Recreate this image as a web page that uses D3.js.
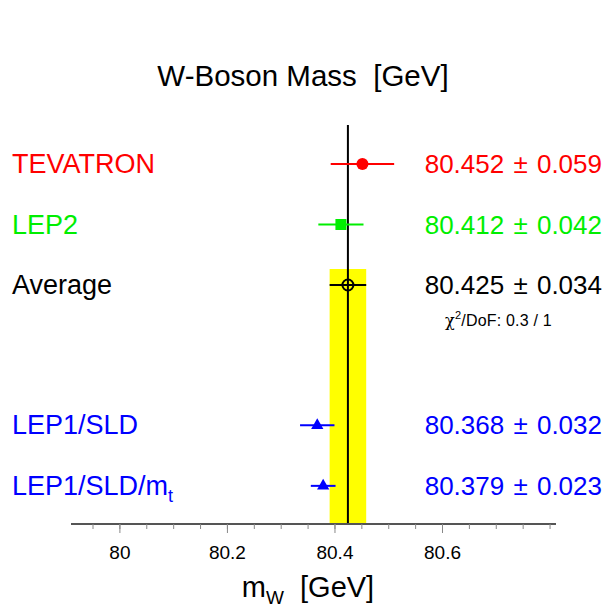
<!DOCTYPE html>
<html>
<head>
<meta charset="utf-8">
<script src="https://cdn.jsdelivr.net/npm/d3@7"></script>
<style>
  body { margin: 0; background: #fff; }
  text { font-family: "Liberation Sans", Arial, sans-serif; white-space: pre; }
</style>
</head>
<body>
<div id="chart"></div>
<script>
// measurements, top to bottom
const names = ["TEVATRON", "LEP2", "Average", "LEP1/SLD", "LEP1/SLD/m"];
const values = [80.452, 80.412, 80.425, 80.368, 80.379];
const errors = [0.059, 0.042, 0.034, 0.032, 0.023];
const colors = ["#ff0000", "#00ee00", "#000000", "#0000ff", "#0000ff"];
const symbols = ["dot", "square", "ring", "triangle", "triangle"];
const rows = [0, 1, 2, 4.32, 5.32];

const avg = 80.425, avgErr = 0.034;
const ticks = [80, 80.2, 80.4, 80.6];
const chiText = "/DoF: 0.3 / 1";

const width = 608, height = 608;

const svg = d3.select("#chart").append("svg")
    .attr("width", width)
    .attr("height", height);

const x = d3.scaleLinear().domain([79.91, 80.812]).range([71, 556]);
const y = d3.scaleLinear().domain([0, 1]).range([164, 224.5]);
const axisY = 524;

// average band
svg.append("rect")
    .attr("x", x(avg - avgErr))
    .attr("y", 269)
    .attr("width", x(avg + avgErr) - x(avg - avgErr))
    .attr("height", axisY - 269)
    .attr("fill", "#ffff00");

// average line
svg.append("line")
    .attr("x1", x(avg)).attr("x2", x(avg))
    .attr("y1", 125).attr("y2", axisY)
    .attr("stroke", "#000").attr("stroke-width", 2);

// axis, minor ticks
const axis = d3.axisBottom(x)
    .tickValues(d3.range(79.95, 80.81, 0.05))
    .tickSize(5)
    .tickFormat("");
const ax = svg.append("g").attr("transform", `translate(0,${axisY})`).call(axis);
ax.select(".domain").attr("stroke", "#555").attr("stroke-width", 2).attr("d", `M71,0H556`);
ax.selectAll(".tick line").attr("stroke", "#888");

// major ticks + labels
const axMajor = svg.append("g").attr("transform", `translate(0,${axisY})`)
    .call(d3.axisBottom(x).tickValues(ticks).tickSize(9).tickFormat(d3.format("")));
axMajor.select(".domain").remove();
axMajor.selectAll(".tick line").attr("stroke", "#888");
axMajor.selectAll(".tick text")
    .attr("y", 35)
    .attr("dy", null)
    .attr("font-size", 19)
    .attr("font-family", "Liberation Sans, Arial, sans-serif")
    .attr("fill", "#000");

// error bars and markers
names.forEach((name, i) => {
    const cy = y(rows[i]);
    const c = colors[i];
    svg.append("line")
        .attr("x1", x(values[i] - errors[i])).attr("x2", x(values[i] + errors[i]))
        .attr("y1", cy).attr("y2", cy)
        .attr("stroke", c).attr("stroke-width", 2);
    if (symbols[i] === "dot") {
        svg.append("circle").attr("cx", x(values[i])).attr("cy", cy).attr("r", 6).attr("fill", c);
    } else if (symbols[i] === "square") {
        svg.append("rect").attr("x", x(values[i]) - 5.5).attr("y", cy - 5.5)
            .attr("width", 11).attr("height", 11).attr("fill", c);
    } else if (symbols[i] === "ring") {
        svg.append("circle").attr("cx", x(values[i])).attr("cy", cy).attr("r", 5.5)
            .attr("fill", "none").attr("stroke", c).attr("stroke-width", 2);
    } else {
        svg.append("path")
            .attr("transform", `translate(${x(values[i])},${cy})`)
            .attr("d", d3.symbol(d3.symbolTriangle, 65)())
            .attr("fill", c);
    }

    // name on the left
    const t = svg.append("text")
        .attr("x", 12).attr("y", cy + 9)
        .attr("font-size", 27).attr("fill", c)
        .text(name);
    if (name === "LEP1/SLD/m") {
        t.append("tspan").attr("font-size", 18).attr("dy", 7).text("t");
    }

    // value on the right
    const v = svg.append("text")
        .attr("x", 602).attr("y", cy + 9)
        .attr("text-anchor", "end")
        .attr("font-size", 26).attr("fill", c);
    v.append("tspan").text(values[i].toFixed(3) + " ");
    v.append("tspan").attr("dx", 2).text("±");
    v.append("tspan").attr("dx", 2).text(" " + errors[i].toFixed(3));
});

// chi2 note
const chi = svg.append("text")
    .attr("x", 445).attr("y", 326)
    .attr("font-size", 16).attr("letter-spacing", 0.2).attr("fill", "#000");
chi.append("tspan").attr("font-family", "DejaVu Serif").text("χ");
chi.append("tspan").attr("font-size", 11).attr("dy", -7).text("2");
chi.append("tspan").attr("dy", 7).text(chiText);

// title
svg.append("text")
    .attr("x", 303).attr("y", 86)
    .attr("text-anchor", "middle")
    .attr("font-size", 29.5)
    .text("W-Boson Mass  [GeV]");

// x label
const xl = svg.append("text")
    .attr("x", 308).attr("y", 597)
    .attr("text-anchor", "middle")
    .attr("font-size", 29);
xl.append("tspan").text("m");
xl.append("tspan").attr("font-size", 19).attr("dy", 7).text("W");
xl.append("tspan").attr("dy", -7).text("  [GeV]");
</script>
</body>
</html>
